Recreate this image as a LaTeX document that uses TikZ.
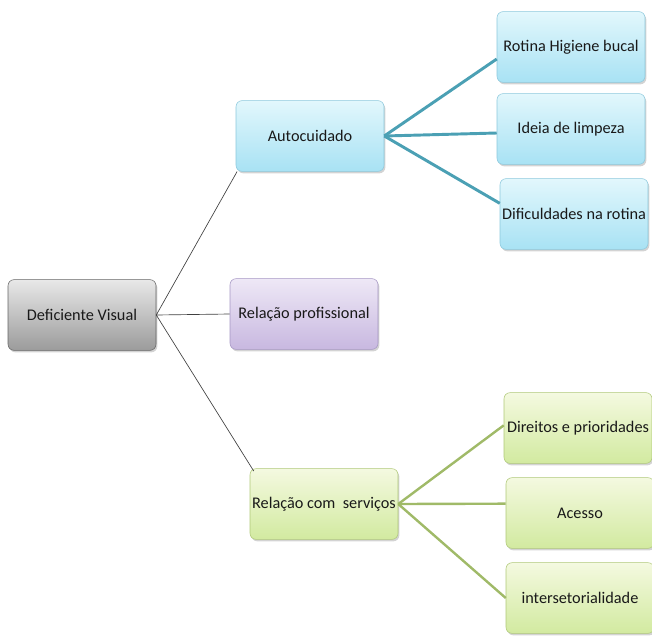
\documentclass[tikz,border=0pt]{standalone}
\usepackage{fontspec}
\setmainfont{Carlito}
\usetikzlibrary{shadows, calc}
\definecolor{rttop}{RGB}{232,232,232}
\definecolor{rtbot}{RGB}{155,155,155}
\definecolor{aztop}{RGB}{226,247,252}
\definecolor{azbot}{RGB}{168,226,244}
\definecolor{lxtop}{RGB}{238,232,246}
\definecolor{lxbot}{RGB}{200,184,224}
\definecolor{vdtop}{RGB}{244,249,224}
\definecolor{vdbot}{RGB}{210,234,160}
\definecolor{azline}{RGB}{75,160,180}
\definecolor{vdline}{RGB}{160,186,104}
\definecolor{azborder}{RGB}{140,200,220}
\definecolor{vdborder}{RGB}{175,200,120}
\definecolor{lxborder}{RGB}{165,150,195}

\begin{document}
\begin{tikzpicture}[x=0.75pt, y=-0.75pt,
  base/.style={rectangle, rounded corners=4.5pt, minimum width=111pt, minimum height=53pt, align=center,
    font=\fontsize{12.2}{14}\selectfont, text=black!90, inner sep=1pt,
    drop shadow={opacity=0.35, shadow xshift=1pt, shadow yshift=-1.5pt}},
  raiz/.style={base, draw=black!60, top color=rttop, bottom color=rtbot},
  azul/.style={base, draw=azborder, top color=aztop, bottom color=azbot},
  lilas/.style={base, draw=lxborder, top color=lxtop, bottom color=lxbot},
  verde/.style={base, draw=vdborder, top color=vdtop, bottom color=vdbot},
  fino/.style={draw=black!75, line width=0.5pt},
  ramoaz/.style={draw=azline, line width=2.2pt},
  ramovd/.style={draw=vdline, line width=1.8pt}
]
\useasboundingbox (0,0) rectangle (652,635);
% Raiz
\node[raiz] (raiz) at (82,315) {Deficiente Visual};
% Nivel 1
\node[azul] (auto) at (310,136) {Autocuidado};
\node[lilas] (prof) at (304,314) {Relação profissional};
\node[verde] (serv) at (324,504) {Relação com \ serviços};
% Nivel 2 (autocuidado)
\node[azul] (rot) at (571,47) {Rotina Higiene bucal};
\node[azul] (ideia) at (571,129) {Ideia de limpeza};
\node[azul] (dif) at (574,214) {Dificuldades na rotina};
% Nivel 2 (servicos)
\node[verde] (dir) at (578,428) {Direitos e prioridades};
\node[verde] (ace) at (580,513) {Acesso};
\node[verde] (inter) at (580,598) {intersetorialidade};
% Ligacoes
\draw[fino] (raiz.east) -- ([xshift=1pt]auto.south west);
\draw[fino] (raiz.east) -- (prof.west);
\draw[fino] (raiz.east) -- ([xshift=3pt,yshift=-2pt]serv.north west);
\draw[ramoaz] (auto.east) -- ([yshift=-9pt]rot.west);
\draw[ramoaz] (auto.east) -- ([yshift=-3pt]ideia.west);
\draw[ramoaz] (auto.east) -- ([yshift=8pt]dif.west);
\draw[ramovd] (serv.east) -- ([yshift=2pt]dir.west);
\draw[ramovd] (serv.east) -- ([yshift=7pt]ace.west);
\draw[ramovd] (serv.east) -- (inter.west);
\end{tikzpicture}
\end{document}
